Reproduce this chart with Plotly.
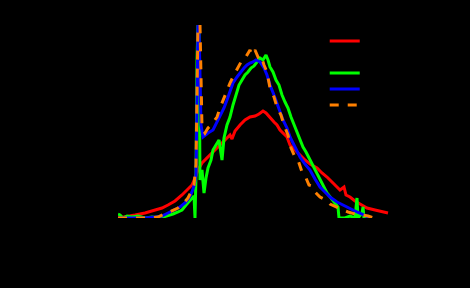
import plotly.graph_objects as go

# Series values (x: channel, y: counts)
red_x = [0, 7, 17, 27, 37, 44, 50, 57, 64, 70, 74, 77, 80, 84, 89, 94, 99, 104, 109, 112, 114, 117, 122, 127, 132, 137, 141, 145, 148, 152, 156, 159, 162, 166, 169, 172, 175, 179, 182, 187, 192, 199, 204, 209, 215, 222, 226, 228, 232, 237, 242, 249, 257, 264, 270]
red_y = [0, 1, 3, 5, 8, 10, 13, 17, 23, 29, 33, 40, 48, 55, 60, 66, 71, 76, 80, 83, 79, 87, 93, 98, 101, 102, 104, 107, 105, 100, 96, 93, 88, 84, 81, 73, 70, 65, 63, 58, 54, 50, 45, 41, 35, 28, 31, 23, 21, 17, 14, 10, 8, 6, 5]

black_x = [0, 40, 80]
black_y = [0, 0, 0]

green_x = [0, 2, 5, 9, 14, 20, 27, 34, 42, 49, 55, 60, 64, 68, 71, 74, 76, 77, 78, 79, 80, 81, 82, 84, 86, 88, 90, 93, 95, 98, 101, 104, 106, 109, 112, 115, 118, 121, 124, 127, 130, 133, 136, 139, 142, 145, 148, 150, 152, 155, 158, 161, 164, 167, 170, 173, 176, 179, 182, 185, 188, 192, 196, 200, 204, 209, 213, 217, 220, 221, 227, 232, 237, 239, 240, 244, 245, 246, 249]
green_y = [4, 3, 0, 2, 1, 2, 0, 1, 0, 2, 4, 6, 8, 13, 16, 20, 22, 0, 43, 158, 193, 193, 38, 48, 25, 40, 50, 58, 68, 73, 78, 58, 80, 93, 101, 113, 123, 133, 138, 143, 146, 150, 152, 156, 160, 158, 163, 158, 151, 146, 138, 133, 123, 116, 110, 101, 93, 85, 78, 71, 66, 58, 51, 43, 35, 25, 20, 15, 11, 0, 0, 2, 0, 20, 0, 5, 11, 0, 0]

blue_x = [0, 12, 27, 37, 44, 50, 56, 62, 67, 71, 74, 76, 78, 79, 80, 81, 82, 83, 85, 90, 95, 99, 102, 106, 109, 112, 115, 119, 122, 126, 129, 132, 135, 138, 142, 146, 149, 152, 156, 159, 162, 165, 169, 172, 177, 182, 187, 192, 197, 202, 207, 212, 219, 225, 232, 239, 244, 249, 252]
blue_y = [0, 0, 0, 1, 2, 5, 8, 11, 15, 20, 26, 32, 43, 108, 193, 193, 148, 93, 81, 85, 88, 96, 101, 110, 118, 126, 135, 141, 145, 150, 153, 155, 156, 158, 156, 150, 143, 133, 123, 115, 108, 98, 90, 81, 71, 61, 54, 48, 39, 31, 26, 21, 16, 13, 9, 6, 4, 2, 0]

orange_x = [0, 17, 32, 40, 47, 54, 60, 65, 70, 73, 76, 78, 79, 80, 82, 83, 84, 87, 90, 94, 99, 102, 105, 109, 112, 116, 119, 123, 126, 129, 132, 134, 137, 140, 143, 146, 149, 152, 156, 159, 163, 166, 170, 173, 177, 180, 184, 188, 191, 194, 197, 202, 208, 212, 218, 225, 230, 237, 244, 250, 256]
orange_y = [0, 0, 0, 1, 4, 7, 10, 14, 20, 26, 33, 53, 138, 193, 193, 123, 90, 85, 90, 94, 101, 110, 118, 128, 135, 143, 148, 156, 158, 163, 168, 163, 168, 161, 163, 153, 146, 130, 121, 111, 103, 93, 83, 70, 61, 58, 46, 40, 33, 32, 26, 21, 18, 14, 11, 8, 6, 4, 3, 2, 0]

x_ticks = [50, 100, 150, 200, 250]
y_ticks = [50, 100, 150]

names = ["Data", "Background", "Model A", "Model B", "Model C"]
colors = ["#ff0000", "#000000", "#00ff00", "#0000ff", "#ff8000"]

fig = go.Figure()
fig.add_trace(go.Scatter(x=black_x, y=black_y, mode="lines", name=names[1],
                         line=dict(color=colors[1], width=3), legend="legend2"))
fig.add_trace(go.Scatter(x=red_x, y=red_y, mode="lines", name=names[0],
                         line=dict(color=colors[0], width=3), legend="legend"))
fig.add_trace(go.Scatter(x=green_x, y=green_y, mode="lines", name=names[2],
                         line=dict(color=colors[2], width=3), legend="legend3"))
fig.add_trace(go.Scatter(x=blue_x, y=blue_y, mode="lines", name=names[3],
                         line=dict(color=colors[3], width=3), legend="legend4"))
fig.add_trace(go.Scatter(x=orange_x, y=orange_y, mode="lines", name=names[4],
                         line=dict(color=colors[4], width=3, dash="9px,9px"), legend="legend5"))

legend_ys = [0.917, 0.834, 0.751, 0.668, 0.585]
def leg(yv):
    return dict(x=0.76, y=yv, xanchor="left", yanchor="middle",
                bgcolor="rgba(0,0,0,0)", font=dict(size=10, color="#000000"),
                itemwidth=30)

fig.update_layout(
    width=470, height=288,
    paper_bgcolor="#000000", plot_bgcolor="#000000",
    margin=dict(l=118, r=80, t=25, b=70),
    font=dict(family="DejaVu Sans", size=10, color="#000000"),
    showlegend=True,
    legend=leg(legend_ys[0]),
    legend2=leg(legend_ys[1]),
    legend3=leg(legend_ys[2]),
    legend4=leg(legend_ys[3]),
    legend5=leg(legend_ys[4]),
    xaxis=dict(range=[0, 272], showgrid=False, zeroline=False, showline=False,
               tickmode="array", tickvals=x_ticks,
               tickfont=dict(color="#000000"), title=dict(text="Channel", font=dict(color="#000000"))),
    yaxis=dict(range=[0, 193], showgrid=False, zeroline=False, showline=False,
               tickmode="array", tickvals=y_ticks,
               tickfont=dict(color="#000000"), title=dict(text="Counts", font=dict(color="#000000"))),
)

fig.write_html("out.html")
